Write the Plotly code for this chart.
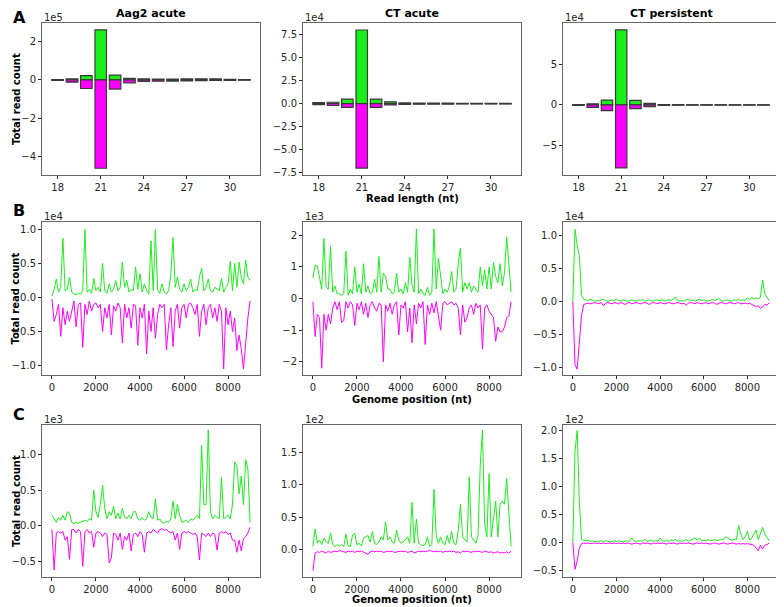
import plotly.graph_objects as go

# Read length distribution (values in units of the offset label)
read_lengths = list(range(18, 32))

aag2_len_sense = [0.02, 0.05, 0.22, 2.62, 0.25, 0.08, 0.05, 0.04, 0.04, 0.05, 0.06, 0.05, 0.03, 0.02]
aag2_len_anti = [-0.03, -0.12, -0.45, -4.62, -0.48, -0.15, -0.08, -0.07, -0.06, -0.05, -0.04, -0.03, -0.02, -0.01]
cta_len_sense = [0.1, 0.15, 0.5, 8.0, 0.5, 0.2, 0.08, 0.06, 0.05, 0.05, 0.04, 0.04, 0.03, 0.03]
cta_len_anti = [-0.1, -0.2, -0.4, -7.0, -0.4, -0.15, -0.08, -0.06, -0.05, -0.05, -0.04, -0.04, -0.03, -0.03]
ctp_len_sense = [0.05, 0.15, 0.6, 9.2, 0.55, 0.2, 0.05, 0.03, 0.02, 0.02, 0.02, 0.01, 0.01, 0.01]
ctp_len_anti = [-0.05, -0.3, -0.7, -7.7, -0.45, -0.2, -0.05, -0.03, -0.02, -0.02, -0.02, -0.01, -0.01, -0.01]

# Genome coverage, binned every 100 nt
positions = list(range(0, 9001, 100))

# B: all reads
aag2_cov_sense = [
    0.02, 0.12, 0.27, 0.08, 0.15, 0.87, 0.1, 0.12, 0.3, 0.08,
    0.05, 0.04, 0.06, 0.05, 0.1, 1.0, 0.08, 0.12, 0.06, 0.28,
    0.1, 0.15, 0.08, 0.5, 0.1, 0.06, 0.2, 0.08, 0.12, 0.25,
    0.1, 0.15, 0.52, 0.15, 0.25, 0.08, 0.12, 0.1, 0.45, 0.12,
    0.35, 0.08, 0.2, 0.1, 0.05, 0.83, 0.1, 1.0, 0.12, 0.06,
    0.2, 0.08, 0.05, 0.1, 0.33, 0.88, 0.15, 0.3, 0.12, 0.08,
    0.2, 0.1, 0.15, 0.27, 0.08, 0.12, 0.1, 0.3, 0.43, 0.1,
    0.15, 0.27, 0.1, 0.08, 0.15, 0.12, 0.1, 0.28, 0.08, 0.15,
    0.2, 0.53, 0.1, 0.5, 0.15, 0.52, 0.3, 0.2, 0.55, 0.3, 0.25]
aag2_cov_anti = [
    -0.02, -0.35, -0.25, -0.1, -0.57, -0.15, -0.4, -0.2, -0.35, -0.2,
    -0.05, -0.43, -0.1, -0.08, -0.73, -0.1, -0.25, -0.05, -0.2, -0.1,
    -0.08, -0.15, -0.1, -0.5, -0.15, -0.3, -0.1, -0.55, -0.12, -0.2,
    -0.08, -0.15, -0.67, -0.1, -0.3, -0.15, -0.45, -0.1, -0.12, -0.7,
    -0.15, -0.3, -0.1, -0.83, -0.2, -0.5, -0.15, -0.6, -0.25, -0.1,
    -0.15, -0.1, -0.77, -0.4, -0.15, -0.72, -0.2, -0.1, -0.45, -0.15,
    -0.1, -0.3, -0.1, -0.08, -0.15, -0.25, -0.1, -0.57, -0.2, -0.1,
    -0.4, -0.15, -0.1, -0.3, -0.15, -0.35, -0.1, -0.2, -1.05, -0.15,
    -0.4, -0.2, -0.5, -0.3, -0.78, -0.55, -0.75, -1.05, -0.6, -0.3, -0.05]
cta_cov_sense = [
    0.65, 1.05, 1.03, 0.6, 0.3, 1.9, 0.35, 0.3, 1.65, 0.2,
    0.4, 0.15, 0.15, 0.1, 0.15, 1.5, 0.1, 0.3, 0.15, 1.0,
    0.2, 0.45, 0.15, 1.1, 0.2, 0.4, 0.15, 0.2, 0.6, 0.2,
    1.33, 0.2, 0.8, 0.7, 0.3, 0.3, 0.15, 0.2, 0.8, 0.2,
    0.3, 0.15, 0.5, 0.2, 1.3, 0.4, 0.2, 2.2, 0.15, 0.3,
    0.15, 0.1, 0.35, 0.1, 0.2, 2.2, 0.3, 1.27, 0.6, 0.15,
    0.3, 0.2, 0.4, 0.85, 0.2, 0.3, 1.1, 1.6, 0.2, 0.5,
    0.3, 0.5, 0.2, 0.4, 0.3, 0.2, 1.0, 0.4, 0.9, 0.3,
    1.0, 0.3, 1.15, 0.7, 0.5, 1.1, 0.4, 0.8, 1.95, 1.1, 0.2]
cta_cov_anti = [
    -0.1, -1.2, -0.5, -0.6, -2.2, -0.5, -1.0, -0.5, -0.8, -0.3,
    -0.1, -0.35, -0.1, -0.75, -0.7, -0.1, -0.3, -0.1, -0.2, -0.85,
    -0.15, -0.35, -0.1, -0.5, -0.15, -0.6, -0.2, -0.1, -0.3, -0.4,
    -0.15, -0.2, -2.0, -0.2, -0.4, -0.15, -0.5, -0.2, -0.1, -1.15,
    -0.2, -0.3, -0.1, -1.05, -0.3, -1.4, -0.2, -0.8, -0.15, -0.3,
    -0.1, -1.45, -0.2, -0.5, -0.15, -0.45, -0.1, -0.5, -1.0, -0.15,
    -0.1, -0.2, -0.15, -0.1, -0.2, -0.15, -0.3, -1.15, -0.2, -0.75,
    -0.6, -0.3, -0.2, -0.5, -0.15, -0.3, -0.2, -1.6, -0.3, -0.2,
    -0.4, -0.5, -0.6, -1.35, -0.9, -1.05, -1.05, -0.9, -0.6, -0.55, -0.1]
ctp_cov_sense = [
    0.0, 1.1, 0.85, 0.7, 0.1, 0.04, 0.03, 0.02, 0.04, 0.02,
    0.01, 0.02, 0.01, 0.03, 0.04, 0.02, 0.01, 0.02, 0.03, 0.02,
    0.04, 0.02, 0.01, 0.03, 0.02, 0.01, 0.02, 0.03, 0.02, 0.01,
    0.03, 0.02, 0.04, 0.01, 0.02, 0.03, 0.02, 0.01, 0.03, 0.02,
    0.02, 0.03, 0.01, 0.02, 0.03, 0.02, 0.04, 0.07, 0.02, 0.01,
    0.02, 0.01, 0.03, 0.04, 0.02, 0.03, 0.01, 0.02, 0.04, 0.02,
    0.03, 0.02, 0.01, 0.02, 0.04, 0.02, 0.03, 0.05, 0.02, 0.01,
    0.02, 0.03, 0.02, 0.01, 0.03, 0.02, 0.04, 0.02, 0.03, 0.02,
    0.06, 0.03, 0.07, 0.04, 0.06, 0.05, 0.07, 0.33, 0.12, 0.06, 0.02]
ctp_cov_anti = [
    0.0, -0.95, -1.02, -0.55, -0.2, -0.04, -0.03, -0.02, -0.03, -0.02,
    -0.01, -0.02, -0.03, -0.01, -0.06, -0.02, -0.01, -0.02, -0.03, -0.01,
    -0.02, -0.03, -0.01, -0.02, -0.04, -0.02, -0.01, -0.03, -0.02, -0.01,
    -0.02, -0.03, -0.02, -0.01, -0.02, -0.04, -0.02, -0.01, -0.02, -0.03,
    -0.01, -0.02, -0.03, -0.02, -0.01, -0.02, -0.03, -0.02, -0.01, -0.02,
    -0.03, -0.02, -0.05, -0.02, -0.01, -0.02, -0.03, -0.01, -0.02, -0.03,
    -0.02, -0.01, -0.03, -0.02, -0.01, -0.02, -0.04, -0.02, -0.01, -0.02,
    -0.03, -0.02, -0.01, -0.02, -0.03, -0.02, -0.01, -0.03, -0.02, -0.02,
    -0.03, -0.02, -0.04, -0.05, -0.07, -0.06, -0.1, -0.08, -0.04, -0.05, -0.01]

# C: second read class
aag2_c_sense = [
    0.15, 0.1, 0.05, 0.12, 0.08, 0.15, 0.08, 0.2, 0.18, 0.05,
    0.03, 0.05, 0.04, 0.05, 0.06, 0.08, 0.06, 0.1, 0.08, 0.5,
    0.2, 0.12, 0.3, 0.57, 0.25, 0.1, 0.2, 0.15, 0.28, 0.1,
    0.18, 0.1, 0.25, 0.12, 0.1, 0.15, 0.1, 0.2, 0.2, 0.1,
    0.08, 0.12, 0.08, 0.1, 0.2, 0.12, 0.1, 0.38, 0.08, 0.1,
    0.05, 0.04, 0.06, 0.05, 0.1, 0.35, 0.1, 0.3, 0.15, 0.05,
    0.06, 0.08, 0.05, 0.1, 0.08, 0.12, 0.15, 0.1, 1.13, 0.3,
    0.3, 1.35, 0.2, 0.1, 0.15, 0.12, 0.1, 0.68, 0.1, 0.12,
    0.15, 0.1, 0.3, 0.9, 0.85, 0.45, 0.7, 0.3, 0.93, 0.8, 0.05]
aag2_c_anti = [
    -0.05, -0.62, -0.1, -0.08, -0.1, -0.08, -0.2, -0.15, -0.47, -0.05,
    -0.05, -0.1, -0.05, -0.08, -0.57, -0.08, -0.05, -0.1, -0.08, -0.3,
    -0.1, -0.08, -0.1, -0.15, -0.1, -0.12, -0.52, -0.45, -0.1, -0.12,
    -0.2, -0.1, -0.33, -0.15, -0.2, -0.1, -0.35, -0.12, -0.1, -0.15,
    -0.08, -0.12, -0.37, -0.1, -0.08, -0.1, -0.05, -0.08, -0.1, -0.05,
    -0.04, -0.06, -0.05, -0.08, -0.1, -0.08, -0.2, -0.1, -0.33, -0.1,
    -0.08, -0.1, -0.08, -0.1, -0.12, -0.1, -0.15, -0.48, -0.1, -0.12,
    -0.15, -0.1, -0.15, -0.1, -0.12, -0.34, -0.1, -0.08, -0.1, -0.08,
    -0.12, -0.1, -0.2, -0.2, -0.37, -0.2, -0.35, -0.18, -0.15, -0.1, -0.02]
cta_c_sense = [
    0.05, 0.32, 0.1, 0.15, 0.08, 0.18, 0.12, 0.1, 0.26, 0.08,
    0.05, 0.08, 0.06, 0.08, 0.05, 0.24, 0.06, 0.05, 0.23, 0.25,
    0.08, 0.1, 0.06, 0.18, 0.2, 0.22, 0.12, 0.28, 0.1, 0.08,
    0.12, 0.2, 0.15, 0.43, 0.15, 0.2, 0.12, 0.1, 0.3, 0.15,
    0.1, 0.12, 0.15, 0.2, 0.1, 0.73, 0.1, 0.47, 0.1, 0.08,
    0.06, 0.08, 0.2, 0.05, 0.08, 0.93, 0.22, 0.1, 0.2, 0.1,
    0.08, 0.22, 0.1, 0.28, 0.1, 0.08, 0.3, 0.7, 0.2, 0.15,
    0.12, 1.12, 0.2, 0.15, 0.1, 0.23, 1.3, 1.84, 0.4, 0.2,
    1.17, 0.2, 0.5, 0.75, 0.2, 0.7, 0.75, 0.7, 1.1, 0.55, 0.05]
cta_c_anti = [
    -0.32, -0.05, -0.03, -0.04, -0.02, -0.03, -0.05, -0.02, -0.04, -0.03,
    -0.02, -0.03, -0.01, -0.02, -0.03, -0.04, -0.02, -0.03, -0.02, -0.04,
    -0.02, -0.03, -0.02, -0.04, -0.05, -0.07, -0.03, -0.02, -0.03, -0.02,
    -0.03, -0.02, -0.04, -0.03, -0.02, -0.03, -0.02, -0.04, -0.03, -0.02,
    -0.02, -0.03, -0.02, -0.04, -0.03, -0.02, -0.05, -0.03, -0.02, -0.03,
    -0.02, -0.03, -0.02, -0.01, -0.02, -0.03, -0.02, -0.03, -0.02, -0.04,
    -0.02, -0.03, -0.02, -0.03, -0.02, -0.04, -0.03, -0.05, -0.02, -0.03,
    -0.02, -0.03, -0.04, -0.02, -0.03, -0.02, -0.03, -0.04, -0.02, -0.03,
    -0.04, -0.03, -0.05, -0.04, -0.03, -0.05, -0.04, -0.05, -0.03, -0.05, -0.02]
ctp_c_sense = [
    0.0, 1.63, 2.0, 0.72, 0.05, 0.04, 0.03, 0.04, 0.02, 0.03,
    0.02, 0.01, 0.02, 0.03, 0.02, 0.03, 0.02, 0.01, 0.02, 0.03,
    0.02, 0.03, 0.02, 0.01, 0.02, 0.03, 0.02, 0.08, 0.03, 0.02,
    0.03, 0.02, 0.03, 0.06, 0.02, 0.03, 0.04, 0.02, 0.03, 0.02,
    0.08, 0.03, 0.02, 0.04, 0.02, 0.05, 0.03, 0.06, 0.02, 0.03,
    0.02, 0.03, 0.05, 0.02, 0.04, 0.06, 0.08, 0.04, 0.08, 0.03,
    0.04, 0.03, 0.05, 0.03, 0.04, 0.05, 0.03, 0.04, 0.06, 0.05,
    0.1, 0.08, 0.05, 0.04, 0.06, 0.05, 0.3, 0.15, 0.05, 0.1,
    0.2, 0.04, 0.08, 0.15, 0.22, 0.05, 0.18, 0.27, 0.15, 0.1, 0.03]
ctp_c_anti = [
    0.0, -0.48, -0.33, -0.1, -0.02, -0.01, -0.02, -0.01, -0.02, -0.01,
    -0.01, -0.02, -0.01, -0.02, -0.01, -0.02, -0.01, -0.01, -0.02, -0.01,
    -0.02, -0.01, -0.02, -0.01, -0.02, -0.01, -0.02, -0.03, -0.02, -0.01,
    -0.02, -0.03, -0.01, -0.02, -0.01, -0.02, -0.03, -0.01, -0.02, -0.01,
    -0.02, -0.01, -0.02, -0.03, -0.01, -0.02, -0.01, -0.02, -0.03, -0.01,
    -0.02, -0.01, -0.02, -0.01, -0.02, -0.03, -0.02, -0.01, -0.02, -0.01,
    -0.02, -0.01, -0.02, -0.03, -0.02, -0.01, -0.02, -0.03, -0.02, -0.01,
    -0.02, -0.03, -0.02, -0.01, -0.02, -0.03, -0.02, -0.03, -0.02, -0.03,
    -0.02, -0.03, -0.04, -0.05, -0.1, -0.15, -0.05, -0.12, -0.05, -0.04, -0.01]

col_titles = ["Aag2 acute", "CT acute", "CT persistent"]
row_letters = ["A", "B", "C"]

# panel grid: (sense, antisense, offset label, y range, y ticks, tick format)
panels = [
    [(aag2_len_sense, aag2_len_anti, "1e5", [-4.98, 2.98], [-4, -2, 0, 2], "d"),
     (cta_len_sense, cta_len_anti, "1e4", [-7.77, 8.77], [-7.5, -5, -2.5, 0, 2.5, 5, 7.5], ".1f"),
     (ctp_len_sense, ctp_len_anti, "1e4", [-8.59, 10.04], [-5, 0, 5], "d")],
    [(aag2_cov_sense, aag2_cov_anti, "1e4", [-1.14, 1.11], [-1, -0.5, 0, 0.5, 1], ".1f"),
     (cta_cov_sense, cta_cov_anti, "1e3", [-2.42, 2.42], [-2, -1, 0, 1, 2], "d"),
     (ctp_cov_sense, ctp_cov_anti, "1e4", [-1.11, 1.21], [-1, -0.5, 0, 0.5, 1], ".1f")],
    [(aag2_c_sense, aag2_c_anti, "1e3", [-0.72, 1.42], [-0.5, 0, 0.5, 1], ".1f"),
     (cta_c_sense, cta_c_anti, "1e2", [-0.42, 1.92], [0, 0.5, 1, 1.5], ".1f"),
     (ctp_c_sense, ctp_c_anti, "1e2", [-0.62, 2.1], [-0.5, 0, 0.5, 1, 1.5, 2], ".1f")],
]

# the page body starts the figure 8 px in from the window corner
W, H = 776, 599
OFF = 8
col_px = [(42, 260), (303, 521), (563, 779)]
row_px = [(23, 176), (223, 377), (427, 580)]


def px_x(v):
    return (v - OFF) / W


def px_y(v):
    return 1 - (v - OFF) / H


GREEN = "#1bef1b"
MAGENTA = "#ff00ff"
FRAME = "#666666"
TXT = "#262626"
FONT = "DejaVu Sans"

fig = go.Figure()
layout = {}
annotations = []

for r in range(3):
    for c in range(3):
        k = r * 3 + c + 1
        xa, ya = ("x%d" % k, "y%d" % k)
        sense, anti, offset, yrange, yticks, yfmt = panels[r][c]
        if r == 0:
            fig.add_trace(go.Bar(x=read_lengths, y=sense, width=0.8, marker_color=GREEN,
                                 marker_line=dict(color="#3a3a3a", width=1.2),
                                 xaxis=xa, yaxis=ya, showlegend=False))
            fig.add_trace(go.Bar(x=read_lengths, y=anti, width=0.8, marker_color=MAGENTA,
                                 marker_line=dict(color="#3a3a3a", width=1.2),
                                 xaxis=xa, yaxis=ya, showlegend=False))
            xrange = [16.91, 32.09]
            xticks = [18, 21, 24, 27, 30]
        else:
            fig.add_trace(go.Scatter(x=positions, y=sense, mode="lines",
                                     line=dict(color=GREEN, width=1),
                                     xaxis=xa, yaxis=ya, showlegend=False))
            fig.add_trace(go.Scatter(x=positions, y=anti, mode="lines",
                                     line=dict(color=MAGENTA, width=1),
                                     xaxis=xa, yaxis=ya, showlegend=False))
            xrange = [-450, 9450]
            xticks = [0, 2000, 4000, 6000, 8000]

        x0, x1 = col_px[c]
        y0, y1 = row_px[r]
        dx = [px_x(x0), px_x(x1)]
        dy = [px_y(y1), px_y(y0)]
        axis_common = dict(showgrid=False, zeroline=False, showline=True, mirror=True,
                           linecolor=FRAME, linewidth=1, ticks="outside", ticklen=3,
                           tickcolor=TXT, tickfont=dict(family=FONT, size=10, color=TXT))
        layout["xaxis%d" % k] = dict(domain=dx, anchor=ya, range=xrange, tickvals=xticks,
                                     **axis_common)
        layout["yaxis%d" % k] = dict(domain=dy, anchor=xa, range=yrange, tickvals=yticks,
                                     tickformat=yfmt, **axis_common)
        annotations.append(dict(x=dx[0], y=dy[1], xref="paper", yref="paper", text=offset,
                                showarrow=False, xanchor="left", yanchor="bottom", yshift=-2,
                                font=dict(family=FONT, size=10, color=TXT)))

# column titles (kept just inside the figure's top edge)
for c, title in enumerate(col_titles):
    x0, x1 = col_px[c]
    annotations.append(dict(x=px_x((x0 + x1) / 2), y=px_y(14), xref="paper", yref="paper",
                            text="<b>%s</b>" % title, showarrow=False,
                            xanchor="center", yanchor="middle",
                            font=dict(family=FONT, size=11, color="black")))

# row letters and y titles
letter_y = [18, 212, 417]
for r, letter in enumerate(row_letters):
    annotations.append(dict(x=px_x(19), y=px_y(letter_y[r]), xref="paper", yref="paper",
                            text="<b>%s</b>" % letter, showarrow=False,
                            xanchor="center", yanchor="middle",
                            font=dict(family=FONT, size=16, color="black")))
    y0, y1 = row_px[r]
    annotations.append(dict(x=px_x(16), y=px_y((y0 + y1) / 2), xref="paper", yref="paper",
                            text="<b>Total read count</b>", showarrow=False, textangle=-90,
                            xanchor="center", yanchor="middle",
                            font=dict(family=FONT, size=10, color="black")))

# x axis titles under the middle column
x_titles = [("Read length (nt)", 199), ("Genome position (nt)", 401), ("Genome position (nt)", 602)]
for text, ypx in x_titles:
    annotations.append(dict(x=px_x((col_px[1][0] + col_px[1][1]) / 2), y=px_y(ypx),
                            xref="paper", yref="paper", text="<b>%s</b>" % text,
                            showarrow=False, xanchor="center", yanchor="middle",
                            font=dict(family=FONT, size=10, color="black")))

fig.update_layout(width=W, height=H, margin=dict(l=0, r=0, t=0, b=0),
                  paper_bgcolor="white", plot_bgcolor="white", barmode="overlay",
                  annotations=annotations, **layout)

fig.write_html("out.html")
